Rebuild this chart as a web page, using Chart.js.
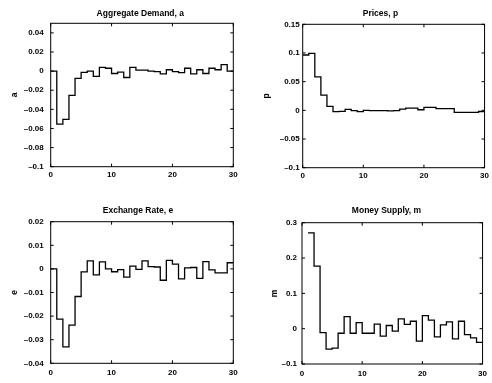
<!DOCTYPE html>
<html lang="en">
<head>
<meta charset="UTF-8" />
<title>Impulse responses</title>
<script src="https://cdn.jsdelivr.net/npm/chart.js"></script>
<style>
  body { margin: 0; background: #fff; }
  #wrap { position: relative; width: 492px; height: 383px; background: #fff; }
  canvas { position: absolute; }
</style>
</head>
<body>
<div id="wrap">
  <canvas id="c1" width="246" height="190" style="left:0;top:0"></canvas>
  <canvas id="c2" width="246" height="190" style="left:246px;top:0"></canvas>
  <canvas id="c3" width="246" height="193" style="left:0;top:190px"></canvas>
  <canvas id="c4" width="246" height="193" style="left:246px;top:190px"></canvas>
</div>
<script>
// periods 0..29, each value held until the next period (stairs)
const periods = [0,1,2,3,4,5,6,7,8,9,10,11,12,13,14,15,16,17,18,19,20,21,22,23,24,25,26,27,28,29];
const lastPeriod = 30;

const demand = [0, -0.0555, -0.0505, -0.0253, -0.0077, -0.0014, 0.0, -0.0056, 0.0039, 0.003,
  -0.0025, -0.001, -0.0067, 0.004, 0.001, 0.001, 0.0, -0.0005, -0.003, 0.0014,
  -0.0005, -0.0015, 0.003, -0.003, 0.0014, -0.0025, 0.003, 0.0014, 0.0067, 0.0];
const prices = [0.0965, 0.0994, 0.0584, 0.0266, 0.0069, -0.0023, -0.0017, 0.0017, -0.0006, -0.0023,
  0.0, -0.0005, -0.0005, -0.0005, -0.001, -0.0005, 0.002, 0.004, 0.004, 0.001,
  0.005, 0.005, 0.003, 0.003, 0.003, -0.0035, -0.0035, -0.0035, -0.0035, -0.002];
const exchange = [0, -0.0213, -0.033, -0.0238, -0.0117, -0.0013, 0.0034, -0.0025, 0.003, 0.0,
  -0.0012, -0.0003, -0.0035, 0.0012, -0.0002, 0.0034, 0.001, 0.0008, -0.0048, 0.0036,
  0.002, -0.0042, 0.0004, 0.0006, -0.004, 0.0031, -0.0004, -0.0017, -0.0017, 0.0026];
const money = [null, 0.271, 0.177, -0.011, -0.058, -0.055, -0.013, 0.034, -0.013, 0.017,
  -0.013, -0.013, 0.013, -0.021, 0.009, -0.007, 0.028, 0.012, 0.021, -0.035,
  0.037, 0.024, -0.023, 0.011, 0.019, -0.029, 0.021, -0.017, -0.026, -0.039];

const titles = ['Aggregate Demand, a', 'Prices, p', 'Exchange Rate, e', 'Money Supply, m'];
const axisLabels = ['a', 'p', 'e', 'm'];
const yRanges = [[-0.1, 0.05, 0.02], [-0.1, 0.15, 0.05], [-0.04, 0.02, 0.01], [-0.1, 0.3, 0.1]];
const xTicks = [0, 10, 20, 30];

// plot area (l, t, r, b) inside each canvas, plus text placement
const layouts = [
  { id: 'c1', w: 246, h: 190, l: 50.7, t: 23.3, r: 233.3, b: 166.7, titleX: 140.3, titleY: 14, labelX: 15, yPad: 7, xPad: 3 },
  { id: 'c2', w: 246, h: 190, l: 56.7, t: 24.3, r: 239.3, b: 167.7, titleX: 134.5, titleY: 14, labelX: 20.7, yPad: 3, xPad: 3 },
  { id: 'c3', w: 246, h: 193, l: 50.7, t: 31.7, r: 233.3, b: 173.3, titleX: 138, titleY: 20.7, labelX: 15, yPad: 7, xPad: 5 },
  { id: 'c4', w: 246, h: 193, l: 56, t: 32.7, r: 239.3, b: 174, titleX: 140.5, titleY: 20.7, labelX: 29, yPad: 5, xPad: 5 }
];
const series = [demand, prices, exchange, money];

const tickFont = { family: 'Arial, "Liberation Sans", sans-serif', size: 8, weight: 'bold' };
const labelFont = { family: 'Arial, "Liberation Sans", sans-serif', size: 8.5, weight: 'bold' };

function fmt(v) {
  const r = Math.round(v * 1000) / 1000;
  return r < 0 ? '\u2013' + String(-r) : String(r);
}

// box around the axes, inward tick marks and the panel title
const framePlugin = {
  id: 'frame',
  afterDraw(chart, args, opts) {
    const { ctx, chartArea: a, scales: { x, y } } = chart;
    ctx.save();
    ctx.strokeStyle = '#000';
    ctx.lineWidth = 1;
    ctx.strokeRect(a.left, a.top, a.right - a.left, a.bottom - a.top);
    ctx.beginPath();
    x.ticks.forEach(t => {
      const px = x.getPixelForValue(t.value);
      ctx.moveTo(px, a.bottom); ctx.lineTo(px, a.bottom - 3);
      ctx.moveTo(px, a.top); ctx.lineTo(px, a.top + 3);
    });
    y.ticks.forEach(t => {
      const py = y.getPixelForValue(t.value);
      ctx.moveTo(a.left, py); ctx.lineTo(a.left + 3, py);
      ctx.moveTo(a.right, py); ctx.lineTo(a.right - 3, py);
    });
    ctx.stroke();
    ctx.fillStyle = '#000';
    ctx.font = 'bold 8.5px Arial, "Liberation Sans", sans-serif';
    ctx.textAlign = 'center';
    ctx.textBaseline = 'middle';
    ctx.fillText(opts.text, opts.x, opts.y);
    ctx.restore();
  }
};

layouts.forEach((lay, i) => {
  const vals = series[i];
  const pts = periods.map((t, k) => ({ x: t, y: vals[k] }));
  pts.push({ x: lastPeriod, y: vals[vals.length - 1] });
  const [ymin, ymax, ystep] = yRanges[i];
  const lh = labelFont.size * 1.2;

  new Chart(document.getElementById(lay.id), {
    type: 'line',
    data: {
      datasets: [{
        data: pts,
        stepped: 'before',
        borderColor: '#000',
        borderWidth: 1.3,
        pointRadius: 0,
        fill: false
      }]
    },
    options: {
      responsive: false,
      animation: false,
      layout: { padding: { left: 0, top: lay.t, right: lay.w - lay.r, bottom: 0 } },
      plugins: {
        legend: { display: false },
        tooltip: { enabled: false },
        frame: { text: titles[i], x: lay.titleX, y: lay.titleY }
      },
      scales: {
        x: {
          type: 'linear',
          min: 0, max: 30,
          afterBuildTicks: s => { s.ticks = xTicks.map(v => ({ value: v })); },
          ticks: { padding: lay.xPad, font: tickFont, color: '#000', maxRotation: 0 },
          grid: { display: false, drawTicks: false, tickLength: 0 },
          border: { display: false },
          afterFit: s => { s.height = lay.h - lay.b; }
        },
        y: {
          min: ymin, max: ymax,
          ticks: { stepSize: ystep, includeBounds: false, padding: lay.yPad, font: tickFont, color: '#000', callback: v => fmt(v) },
          grid: { display: false, drawTicks: false, tickLength: 0 },
          border: { display: false },
          title: { display: true, text: axisLabels[i], font: labelFont, color: '#000', padding: { top: lay.labelX - lh / 2, bottom: 0 } },
          afterFit: s => { s.width = lay.l; }
        }
      }
    },
    plugins: [framePlugin]
  });
});
</script>
</body>
</html>
